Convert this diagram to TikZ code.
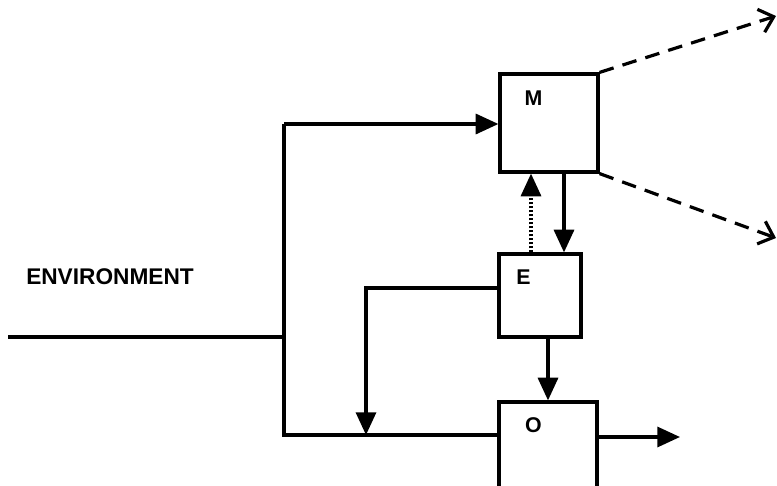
\documentclass[tikz,border=0pt]{standalone}
\usepackage{fontspec}
\setmainfont{Liberation Sans}
\usetikzlibrary{arrows.meta, calc}

\begin{document}
\begin{tikzpicture}[
    x=0.75pt, y=-0.75pt, line width=2.4pt,
    >={Triangle[length=17pt, width=15pt]},
    blk/.style={draw, rectangle, inner sep=0pt},
    lbl/.style={font=\fontsize{16}{18}\selectfont\bfseries},
    arr/.style={->},
    dsh/.style={-{Straight Barb[length=10pt, width=18pt, line width=2.4pt]}, dash pattern=on 11pt off 7pt},
    dot/.style={->, dash pattern=on 1.6pt off 1.4pt}
]
    \useasboundingbox (0,0) rectangle (777,485);

    % boxes
    \node[blk, minimum width=98*0.75pt, minimum height=98*0.75pt]  (M) at (549,123) {};
    \node[blk, minimum width=82*0.75pt, minimum height=83*0.75pt]  (E) at (540,295.5) {};
    \node[blk, minimum width=98*0.75pt, minimum height=100*0.75pt] (O) at (548,452) {};
    \node[lbl] (Mlbl) at ($(M.north west)+(35,26)$) {M};
    \node[lbl] (Elbl) at ($(E.north west)+(26,25)$) {E};
    \node[lbl] (Olbl) at ($(O.north west)+(36,25)$) {O};

    \node[font=\fontsize{17}{20}\selectfont\bfseries] (env) at (110,277) {ENVIRONMENT};

    % points
    \coordinate (envL) at (8,337);
    \coordinate (busT) at (284,124);
    \coordinate (busB) at (284,435);
    \coordinate (fb)   at (366,288);
    \coordinate (me)   at ($(M.south)+(15,0)$);
    \coordinate (em)   at ($(E.north)+(-9,0)$);
    \coordinate (eo)   at ($(E.south)+(8,0)$);
    \coordinate (out)  at (680,437);
    \coordinate (tr)   at (776,16);
    \coordinate (br)   at (776,238);

    % connectors
    \draw (envL) -- (envL -| busT);
    \draw[arr] (busT) -- (busT -| M.west);
    \draw (busT) |- (busB -| O.west);
    \draw[arr] (E.west |- fb) -| (fb |- busB);
    \draw[arr] (me) -- (me |- E.north);
    \draw[dot] (em) -- (em |- M.south);
    \draw[arr] (eo) -- (eo |- O.north);
    \draw[arr] (O.east |- out) -- (out);
    \draw[dsh] (M.north east) -- (tr);
    \draw[dsh] (M.south east) -- (br);
\end{tikzpicture}
\end{document}
